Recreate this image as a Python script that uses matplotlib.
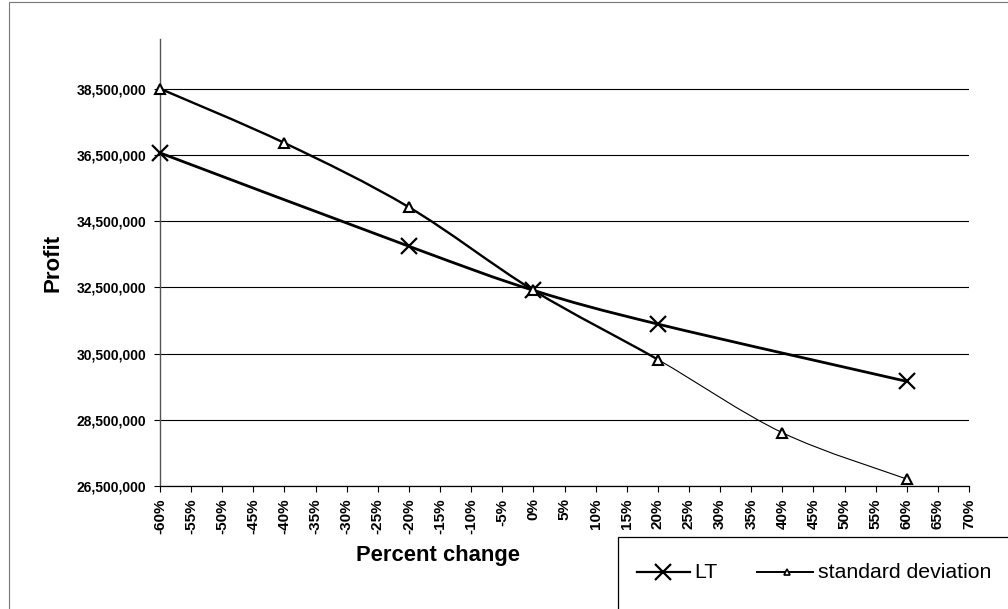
import matplotlib
matplotlib.use("Agg")
import matplotlib.pyplot as plt
from matplotlib.path import Path
from matplotlib.patches import PathPatch, Rectangle
from matplotlib.lines import Line2D
from matplotlib.ticker import FuncFormatter

plt.rcParams['font.family'] = ['Liberation Sans', 'DejaVu Sans']

# Percent change scenarios and resulting profit
pct_change = [-60, -20, 0, 20, 60]
profit_lt = [36560000, 33740000, 32410000, 31390000, 29660000]

pct_change_sd = [-60, -40, -20, 0, 20, 40, 60]
profit_sd = [38500000, 36860000, 34920000, 32410000, 30320000, 28110000, 26710000]

x_ticks = list(range(-60, 75, 5))
y_ticks = [26500000, 28500000, 30500000, 32500000, 34500000, 36500000, 38500000]
series_names = ["LT", "standard deviation"]

W, H = 1008, 609
fig = plt.figure(figsize=(W / 100, H / 100), dpi=100)
ax = fig.add_axes([160 / W, 1 - 486 / H, (969 - 160) / W, (486 - 39) / H])


def smooth_path(xs, ys):
    """Bezier path through the points (Catmull-Rom style control points)."""
    pts = list(zip(xs, ys))
    verts = [pts[0]]
    codes = [Path.MOVETO]
    n = len(pts)
    for i in range(n - 1):
        p0 = pts[i - 1] if i > 0 else pts[i]
        p1 = pts[i]
        p2 = pts[i + 1]
        p3 = pts[i + 2] if i + 2 < n else pts[i + 1]
        c1 = (p1[0] + (p2[0] - p0[0]) / 6, p1[1] + (p2[1] - p0[1]) / 6)
        c2 = (p2[0] - (p3[0] - p1[0]) / 6, p2[1] - (p3[1] - p1[1]) / 6)
        verts += [c1, c2, p2]
        codes += [Path.CURVE4] * 3
    return Path(verts, codes)


def add_curve(xs, ys, lw, first=0, last=None):
    path = smooth_path(xs, ys)
    if last is None:
        last = len(xs) - 1
    verts = path.vertices[3 * first: 3 * last + 1]
    codes = [Path.MOVETO] + [Path.CURVE4] * (3 * (last - first))
    ax.add_patch(PathPatch(Path(verts, codes), fill=False, edgecolor="black",
                           lw=lw, capstyle="round", joinstyle="round", zorder=3))


# LT series
add_curve(pct_change, profit_lt, 2.0)
ax.plot(pct_change, profit_lt, linestyle="none", marker="x", markersize=11,
        markeredgewidth=1.6, color="black", zorder=4, clip_on=False)

# standard deviation series: heavy stroke up to +20 %, light beyond
add_curve(pct_change_sd, profit_sd, 1.7, 0, 4)
add_curve(pct_change_sd, profit_sd, 0.8, 4, 6)
ax.plot(pct_change_sd, profit_sd, linestyle="none", marker="^", markersize=6.5,
        markeredgewidth=1.5, markerfacecolor="white", color="black", zorder=4,
        clip_on=False)

ax.set_xlim(-60, 70)
ax.set_ylim(26500000, 40000000)
ax.set_xticks(x_ticks)
ax.set_yticks(y_ticks)
ax.xaxis.set_major_formatter(FuncFormatter(lambda v, p: f"{int(round(v))}%"))
ax.yaxis.set_major_formatter(FuncFormatter(lambda v, p: f"{int(v):,}"))
ax.grid(axis="y", color="black", lw=0.8)
ax.set_axisbelow(True)
for s in ("top", "right"):
    ax.spines[s].set_visible(False)
ax.spines["left"].set_color("#555555")
ax.spines["left"].set_linewidth(1.0)
ax.spines["bottom"].set_linewidth(0.9)
ax.tick_params(axis="y", direction="out", length=4, width=0.8, pad=6,
               labelsize=10)
ax.tick_params(axis="x", direction="out", length=4, width=0.8, pad=5,
               labelsize=11, labelrotation=90)
for lbl in ax.get_xticklabels() + ax.get_yticklabels():
    lbl.set_fontweight("bold")

fig.text(53 / W, 1 - 263 / H, "Profit", rotation=90, fontsize=16,
         fontweight="bold", ha="center", va="center")
fig.text(438 / W, 1 - 555 / H, "Percent change", fontsize=15.8,
         fontweight="bold", ha="center", va="center")

# Chart border and legend box
fig.patches.append(Rectangle((9 / W, -0.05), 1.05, 1 - 2 / H + 0.05,
                             transform=fig.transFigure, fill=False,
                             edgecolor="#777777", lw=0.8))
fig.patches.append(Rectangle((618 / W, -0.05), 1.05, 1 - 537 / H + 0.05,
                             transform=fig.transFigure, fill=False,
                             edgecolor="black", lw=0.9))

ly = 1 - 572 / H
fig.add_artist(Line2D([637 / W, 690 / W], [ly, ly], color="black", lw=1.6))
fig.add_artist(Line2D([663 / W], [ly], marker="x", markersize=11,
                      markeredgewidth=1.6, color="black"))
fig.text(694 / W, ly, series_names[0], fontsize=15.3, va="center", ha="left")
fig.add_artist(Line2D([757 / W, 813 / W], [ly, ly], color="black", lw=1.4))
fig.add_artist(Line2D([787 / W], [ly], marker="^", markersize=5,
                      markeredgewidth=1.2, markerfacecolor="white",
                      color="black"))
fig.text(818 / W, ly, series_names[1], fontsize=15.3, va="center", ha="left")

fig.savefig("out.png", dpi=100)
